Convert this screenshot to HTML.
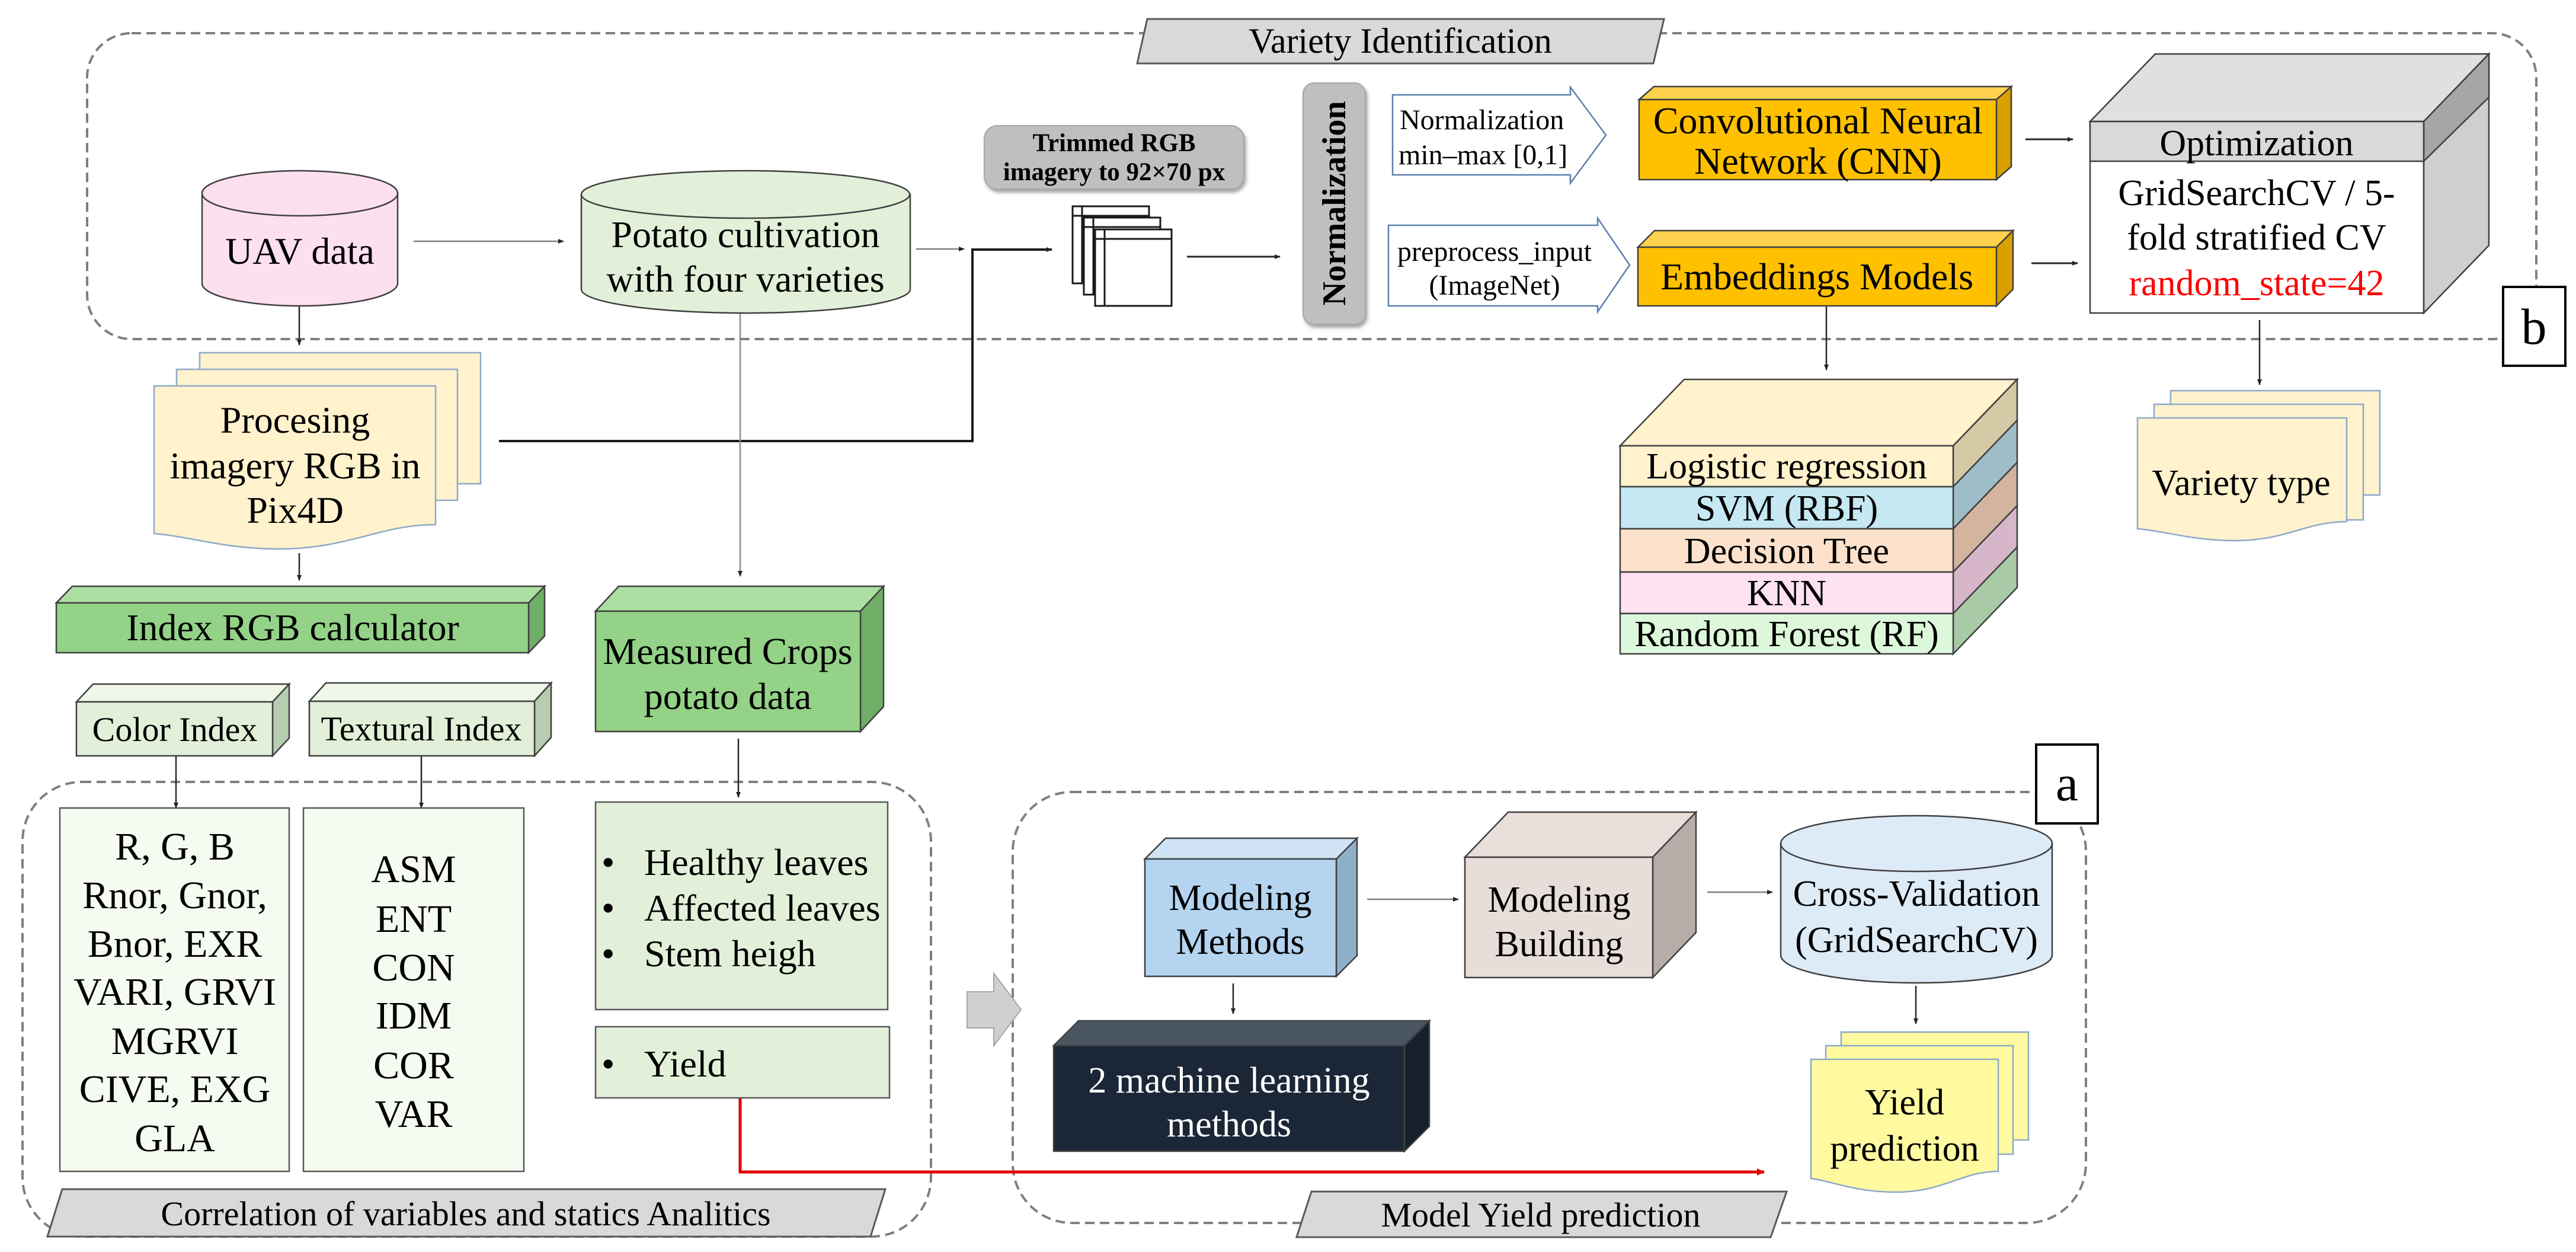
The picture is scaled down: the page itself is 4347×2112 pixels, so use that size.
<!DOCTYPE html>
<html><head><meta charset="utf-8"><style>
html,body{margin:0;padding:0;background:#fff;}
svg{display:block;}
svg, svg text{font-family:"Liberation Serif","Noto Serif CJK SC","DejaVu Serif",serif !important;}
</style></head><body>
<svg width="4347" height="2112" viewBox="0 0 4347 2112" xmlns="http://www.w3.org/2000/svg">
<defs>
<marker id="ah" markerWidth="10" markerHeight="10" refX="9" refY="5" orient="auto" markerUnits="userSpaceOnUse"><path d="M0,1 L10,5 L0,9 Z" fill="#262626"/></marker>
<marker id="ahr" markerWidth="14" markerHeight="14" refX="12" refY="7" orient="auto" markerUnits="userSpaceOnUse"><path d="M0,1 L13,7 L0,13 Z" fill="#e00000"/></marker>
<filter id="sh" x="-10%" y="-10%" width="130%" height="140%"><feDropShadow dx="3" dy="5" stdDeviation="3" flood-color="#000" flood-opacity="0.35"/></filter>
</defs>

<rect x="147" y="56" width="4133" height="516" rx="75" fill="none" stroke="#7f7f7f" stroke-width="4" stroke-dasharray="16,9"/>
<rect x="38" y="1319" width="1533" height="767" rx="100" fill="none" stroke="#7f7f7f" stroke-width="4" stroke-dasharray="16,9"/>
<rect x="1709" y="1336" width="1811" height="727" rx="100" fill="none" stroke="#7f7f7f" stroke-width="4" stroke-dasharray="16,9"/>

<polygon points="1936,32 2808,32 2790,107 1919,107" fill="#d9d9d9" stroke="#595959" stroke-width="3"/>
<text x="2363" y="89" font-size="60" text-anchor="middle">Variety Identification</text>
<polygon points="105,2006 1494,2006 1469,2086 80,2086" fill="#d9d9d9" stroke="#595959" stroke-width="3"/>
<text x="786" y="2067" font-size="58" text-anchor="middle">Correlation of variables and statics Analitics</text>
<polygon points="2213,2010 3015,2010 2988,2087 2188,2087" fill="#d9d9d9" stroke="#595959" stroke-width="3"/>
<text x="2600" y="2069" font-size="58" text-anchor="middle">Model Yield prediction</text>

<rect x="4224" y="484" width="105" height="133" fill="#fff" stroke="#000" stroke-width="4"/>
<text x="4276" y="580" font-size="86" text-anchor="middle">b</text>
<rect x="3436" y="1256" width="104" height="133" fill="#fff" stroke="#000" stroke-width="4"/>
<text x="3488" y="1350" font-size="86" text-anchor="middle">a</text>

<g stroke="#262626" stroke-width="2.5" fill="none">
<line x1="698" y1="407" x2="951" y2="407" stroke="#7f7f7f" marker-end="url(#ah)"/>
<line x1="1546" y1="420" x2="1627" y2="420" stroke="#7f7f7f" marker-end="url(#ah)"/>
<polyline points="842,744 1641,744 1641,421 1775,421" stroke="#1a1a1a" stroke-width="4" marker-end="url(#ah)"/>
<line x1="2003" y1="433" x2="2160" y2="433" stroke-width="3" marker-end="url(#ah)"/>
<line x1="505" y1="516" x2="505" y2="582" marker-end="url(#ah)"/>
<line x1="1249" y1="528" x2="1249" y2="972" stroke="#8c8c8c" marker-end="url(#ah)"/>
<line x1="505" y1="933" x2="505" y2="979" marker-end="url(#ah)"/>
<line x1="297" y1="1275" x2="297" y2="1363" marker-end="url(#ah)"/>
<line x1="711" y1="1275" x2="711" y2="1363" marker-end="url(#ah)"/>
<line x1="1246" y1="1246" x2="1246" y2="1345" marker-end="url(#ah)"/>
<line x1="3418" y1="235" x2="3498" y2="235" stroke-width="3" marker-end="url(#ah)"/>
<line x1="3428" y1="444" x2="3506" y2="444" stroke-width="3" marker-end="url(#ah)"/>
<line x1="3082" y1="516" x2="3082" y2="624" marker-end="url(#ah)"/>
<line x1="3813" y1="540" x2="3813" y2="649" marker-end="url(#ah)"/>
<line x1="2081" y1="1659" x2="2081" y2="1710" marker-end="url(#ah)"/>
<line x1="2307" y1="1517" x2="2461" y2="1517" stroke="#7f7f7f" marker-end="url(#ah)"/>
<line x1="2881" y1="1505" x2="2991" y2="1505" stroke="#7f7f7f" marker-end="url(#ah)"/>
<line x1="3233" y1="1663" x2="3233" y2="1727" marker-end="url(#ah)"/>
</g>
<polyline points="1249,1852 1249,1977 2977,1977" fill="none" stroke="#e00000" stroke-width="5" marker-end="url(#ahr)"/>

<g stroke="#404040" stroke-width="2.5">
<path d="M341,326 V478 A165,38 0 0 0 671,478 V326 Z" fill="#fde0ef"/>
<ellipse cx="506" cy="326" rx="165" ry="38" fill="#fde0ef"/>
<path d="M981,328 V488 A277,40 0 0 0 1536,488 V328 Z" fill="#e2f0d9"/>
<ellipse cx="1258" cy="328" rx="277" ry="40" fill="#e2f0d9"/>
<path d="M3005,1423 V1611 A229,47 0 0 0 3463,1611 V1423 Z" fill="#ddebf7"/>
<ellipse cx="3234" cy="1423" rx="229" ry="47" fill="#ddebf7"/>
</g>
<text x="506" y="445" font-size="64" text-anchor="middle">UAV data</text>
<text x="1258" y="417" font-size="64" text-anchor="middle">Potato cultivation</text>
<text x="1258" y="492" font-size="64" text-anchor="middle">with four varieties</text>
<text x="3234" y="1528" font-size="62" text-anchor="middle">Cross-Validation</text>
<text x="3234" y="1606" font-size="62" text-anchor="middle">(GridSearchCV)</text>

<rect x="1661" y="212" width="438" height="107" rx="22" fill="#bfbfbf" stroke="#a6a6a6" stroke-width="2" filter="url(#sh)"/>
<text x="1880" y="255" font-size="43" font-weight="bold" text-anchor="middle">Trimmed RGB</text>
<text x="1880" y="304" font-size="43" font-weight="bold" text-anchor="middle">imagery to 92×70 px</text>

<g fill="#fff" stroke="#1a1a1a" stroke-width="3">
<rect x="1810" y="348" width="129" height="130"/><line x1="1810" y1="364" x2="1939" y2="364"/><line x1="1826" y1="348" x2="1826" y2="478"/>
<rect x="1829" y="367" width="129" height="130"/><line x1="1829" y1="383" x2="1958" y2="383"/><line x1="1845" y1="367" x2="1845" y2="497"/>
<rect x="1848" y="387" width="129" height="129"/><line x1="1848" y1="403" x2="1977" y2="403"/><line x1="1864" y1="387" x2="1864" y2="516"/>
</g>

<rect x="2199" y="140" width="105" height="407" rx="18" fill="#bfbfbf" stroke="#a6a6a6" stroke-width="2" filter="url(#sh)"/>
<text transform="translate(2270,343) rotate(-90)" font-size="56" font-weight="bold" text-anchor="middle">Normalization</text>

<path d="M2350,160 H2650 V147 L2710,228 L2650,309 V295 H2350 Z" fill="#fff" stroke="#5b7fb0" stroke-width="2.5"/>
<text x="2362" y="218" font-size="48">Normalization</text>
<text x="2360" y="277" font-size="48">min–max [0,1]</text>
<path d="M2343,380 H2696 V368 L2750,447 L2696,526 V516 H2343 Z" fill="#fff" stroke="#5b7fb0" stroke-width="2.5"/>
<text x="2522" y="440" font-size="48" text-anchor="middle">preprocess_input</text>
<text x="2522" y="497" font-size="48" text-anchor="middle">(ImageNet)</text>

<g stroke="#404040" stroke-width="2.5">
<polygon points="2766,168 2791,146 3394,146 3369,168" fill="#ffd24d"/>
<polygon points="3369,168 3394,146 3394,281 3369,303" fill="#d9a000"/>
<rect x="2766" y="168" width="603" height="135" fill="#ffc000"/>
<polygon points="2764,417 2792,389 3397,389 3369,417" fill="#ffd24d"/>
<polygon points="3369,417 3397,389 3397,488 3369,516" fill="#d9a000"/>
<rect x="2764" y="417" width="605" height="99" fill="#ffc000"/>
<polygon points="3527,205 3637,91 4200,91 4090,205" fill="#e0e0e0"/>
<polygon points="4090,205 4200,91 4200,414 4090,528" fill="#cfcfcf"/>
<polygon points="4090,205 4200,91 4200,164 4090,272" fill="#a6a6a6"/>
<rect x="3527" y="205" width="563" height="323" fill="#fff"/>
<rect x="3527" y="205" width="563" height="67" fill="#d9d9d9"/>
<polygon points="95,1017 122,989 919,989 892,1017" fill="#abdfa2"/>
<polygon points="892,1017 919,989 919,1073 892,1101" fill="#6fae66"/>
<rect x="95" y="1017" width="797" height="84" fill="#93d287"/>
<polygon points="1005,1031 1044,989 1491,989 1452,1031" fill="#abdfa2"/>
<polygon points="1452,1031 1491,989 1491,1192 1452,1234" fill="#6fae66"/>
<rect x="1005" y="1031" width="447" height="203" fill="#93d287"/>
<polygon points="129,1184 157,1154 488,1154 460,1184" fill="#eef7e8"/>
<polygon points="460,1184 488,1154 488,1245 460,1275" fill="#b7cdb0"/>
<rect x="129" y="1184" width="331" height="91" fill="#e2f0d9"/>
<polygon points="522,1183 550,1152 930,1152 902,1183" fill="#eef7e8"/>
<polygon points="902,1183 930,1152 930,1244 902,1275" fill="#b7cdb0"/>
<rect x="522" y="1183" width="380" height="92" fill="#e2f0d9"/>
<polygon points="1932,1449 1967,1414 2290,1414 2255,1449" fill="#cfe3f5"/>
<polygon points="2255,1449 2290,1414 2290,1612 2255,1647" fill="#8fb0c9"/>
<rect x="1932" y="1449" width="323" height="198" fill="#b4d4f0"/>
<polygon points="1778,1764 1820,1722 2412,1722 2370,1764" fill="#4a5562"/>
<polygon points="2370,1764 2412,1722 2412,1900 2370,1942" fill="#16202c"/>
<rect x="1778" y="1764" width="592" height="178" fill="#1b2636"/>
<polygon points="2472,1446 2545,1370 2862,1370 2789,1446" fill="#e8dfdb"/>
<polygon points="2789,1446 2862,1370 2862,1573 2789,1649" fill="#b8aca8"/>
<rect x="2472" y="1446" width="317" height="203" fill="#e7ddd9"/>
</g>
<text x="3068" y="225" font-size="64" text-anchor="middle">Convolutional Neural</text>
<text x="3068" y="293" font-size="64" text-anchor="middle">Network (CNN)</text>
<text x="3066" y="488" font-size="64" text-anchor="middle">Embeddings Models</text>
<text x="3808" y="262" font-size="62" text-anchor="middle">Optimization</text>
<text x="3808" y="346" font-size="62" text-anchor="middle">GridSearchCV / 5-</text>
<text x="3808" y="421" font-size="62" text-anchor="middle">fold stratified CV</text>
<text x="3808" y="498" font-size="62" text-anchor="middle" fill="#ff0000">random_state=42</text>
<text x="494" y="1080" font-size="64" text-anchor="middle">Index RGB calculator</text>
<text x="1228" y="1120" font-size="64" text-anchor="middle">Measured Crops</text>
<text x="1228" y="1196" font-size="64" text-anchor="middle">potato data</text>
<text x="295" y="1250" font-size="58" text-anchor="middle">Color Index</text>
<text x="711" y="1249" font-size="58" text-anchor="middle">Textural Index</text>
<text x="2093" y="1535" font-size="62" text-anchor="middle">Modeling</text>
<text x="2093" y="1609" font-size="62" text-anchor="middle">Methods</text>
<text x="2074" y="1843" font-size="62" text-anchor="middle" fill="#fff">2 machine learning</text>
<text x="2074" y="1917" font-size="62" text-anchor="middle" fill="#fff">methods</text>
<text x="2631" y="1538" font-size="62" text-anchor="middle">Modeling</text>
<text x="2631" y="1613" font-size="62" text-anchor="middle">Building</text>

<g stroke="#404040" stroke-width="2.5">
<polygon points="2734,752 2842,640 3404,640 3296,752" fill="#fff2cc"/>
<polygon points="3296,752 3404,640 3404,709 3296,821" fill="#d6c9a6"/>
<polygon points="3296,821 3404,709 3404,780 3296,892" fill="#9ebdc9"/>
<polygon points="3296,892 3404,780 3404,853 3296,965" fill="#d4b49e"/>
<polygon points="3296,965 3404,853 3404,923 3296,1035" fill="#d6b6c8"/>
<polygon points="3296,1035 3404,923 3404,991 3296,1103" fill="#a8caa6"/>
<rect x="2734" y="752" width="562" height="69" fill="#fff2cc"/>
<rect x="2734" y="821" width="562" height="71" fill="#c5e8f3"/>
<rect x="2734" y="892" width="562" height="73" fill="#fce2cc"/>
<rect x="2734" y="965" width="562" height="70" fill="#fde2f0"/>
<rect x="2734" y="1035" width="562" height="68" fill="#ddf7da"/>
</g>
<g font-size="62" text-anchor="middle">
<text x="3015" y="807">Logistic regression</text>
<text x="3015" y="878">SVM (RBF)</text>
<text x="3015" y="950">Decision Tree</text>
<text x="3015" y="1021">KNN</text>
<text x="3015" y="1090">Random Forest (RF)</text>
</g>

<g stroke="#8ea9c9" stroke-width="2.5">
<rect x="337" y="595" width="474" height="221" fill="#fff2cc"/>
<rect x="298" y="623" width="474" height="221" fill="#fff2cc"/>
<path d="M260,651 H735 V885 C640,885 590,926 470,926 C380,926 320,905 260,900 Z" fill="#fff2cc"/>
<rect x="3663" y="659" width="353" height="176" fill="#fff2cc"/>
<rect x="3635" y="682" width="353" height="195" fill="#fff2cc"/>
<path d="M3607,705 H3960 V880 C3890,880 3860,912 3770,912 C3700,912 3650,895 3607,892 Z" fill="#fff2cc"/>
<rect x="3107" y="1741" width="316" height="182" fill="#fffaa0"/>
<rect x="3081" y="1764" width="316" height="183" fill="#fffaa0"/>
<path d="M3056,1787 H3372 V1976 C3310,1976 3280,2011 3200,2011 C3130,2011 3090,1992 3056,1988 Z" fill="#fffaa0"/>
</g>
<text x="498" y="730" font-size="64" text-anchor="middle">Procesing</text>
<text x="498" y="807" font-size="64" text-anchor="middle">imagery RGB in</text>
<text x="498" y="882" font-size="64" text-anchor="middle">Pix4D</text>
<text x="3782" y="835" font-size="62" text-anchor="middle">Variety type</text>
<text x="3214" y="1880" font-size="62" text-anchor="middle">Yield</text>
<text x="3214" y="1958" font-size="62" text-anchor="middle">prediction</text>

<g stroke="#595959" stroke-width="2.5">
<rect x="101" y="1363" width="387" height="613" fill="#f5fbf0"/>
<rect x="512" y="1363" width="372" height="613" fill="#f5fbf0"/>
<rect x="1005" y="1353" width="493" height="350" fill="#e2f0d9"/>
<rect x="1005" y="1732" width="496" height="120" fill="#e2f0d9"/>
</g>
<g font-size="66" text-anchor="middle">
<text x="295" y="1450">R, G, B</text>
<text x="295" y="1532">Rnor, Gnor,</text>
<text x="295" y="1614">Bnor, EXR</text>
<text x="295" y="1695">VARI, GRVI</text>
<text x="295" y="1778">MGRVI</text>
<text x="295" y="1859">CIVE, EXG</text>
<text x="295" y="1942">GLA</text>
<text x="698" y="1488">ASM</text>
<text x="698" y="1572">ENT</text>
<text x="698" y="1654">CON</text>
<text x="698" y="1735">IDM</text>
<text x="698" y="1819">COR</text>
<text x="698" y="1901">VAR</text>
</g>
<g font-size="64">
<text x="1015" y="1476">•</text><text x="1087" y="1476">Healthy leaves</text>
<text x="1015" y="1553">•</text><text x="1087" y="1553">Affected leaves</text>
<text x="1015" y="1630">•</text><text x="1087" y="1630">Stem heigh</text>
<text x="1015" y="1816">•</text><text x="1087" y="1816">Yield</text>
</g>

<polygon points="1632,1673 1677,1673 1677,1642 1723,1703 1677,1764 1677,1734 1632,1734" fill="#d0d0d0" stroke="#a6a6a6" stroke-width="2"/>
</svg>
</body></html>
